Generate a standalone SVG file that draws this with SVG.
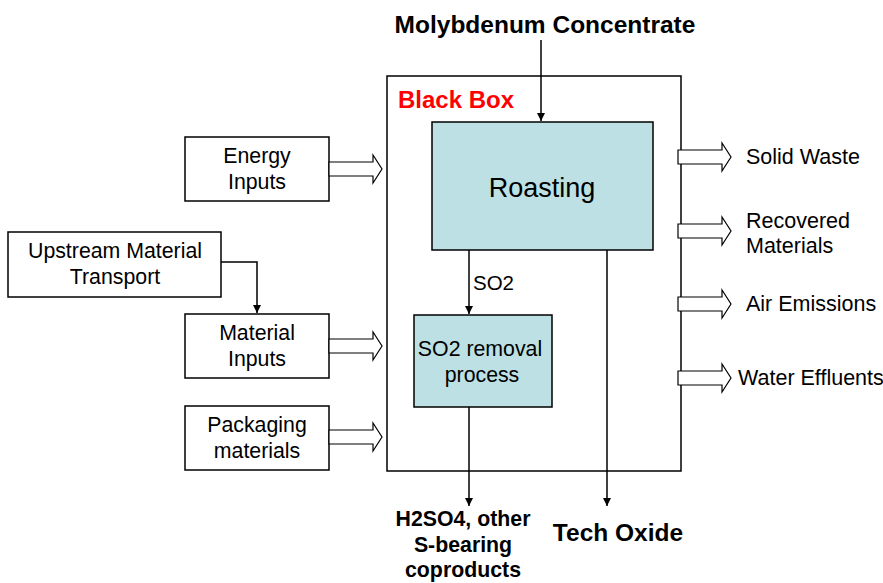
<svg xmlns="http://www.w3.org/2000/svg" width="883" height="583" viewBox="0 0 883 583">
<defs>
<marker id="ah" markerWidth="10" markerHeight="10" refX="9" refY="5" orient="auto" markerUnits="userSpaceOnUse"><path d="M1,1 L9,5 L1,9 Z" fill="#000"/></marker>
<path id="hollow" d="M0,-7 L44,-7 L44,-14 L53,0 L44,14 L44,7 L0,7 Z" fill="#fff" stroke="#000" stroke-width="1.2"/>
</defs>
<style>
text{font-family:"Liberation Sans",Arial,sans-serif;fill:#000}
.box{fill:#fff;stroke:#000;stroke-width:1.5}
.proc{fill:#BCE0E3;stroke:#000;stroke-width:1.5}
.lbl{font-size:21.3px;text-anchor:middle}
.out{font-size:21.5px}
.bold{font-weight:bold;text-anchor:middle}
.line{stroke:#000;stroke-width:1.5;fill:none}
</style>
<rect width="883" height="583" fill="#fff"/>
<g id="blackbox">
<rect x="387" y="76" width="294" height="395" class="box"/>
<text x="398" y="108" font-size="24" font-weight="bold" style="fill:#FF0000">Black Box</text>
</g>
<g id="roasting">
<rect x="432" y="122" width="221" height="128" class="proc"/>
<text x="542" y="197" font-size="27" text-anchor="middle">Roasting</text>
</g>
<g id="so2removal">
<rect x="414" y="315" width="138" height="92" class="proc"/>
<text x="480" y="356" class="lbl">SO2 removal</text>
<text x="482" y="382" class="lbl">process</text>
</g>
<g id="molyconc"><text x="545" y="33" font-size="24.5" class="bold">Molybdenum Concentrate</text></g>
<g id="energy"><rect x="185" y="137" width="144" height="64" class="box"/><text x="257" y="163" class="lbl">Energy</text><text x="257" y="189" class="lbl">Inputs</text></g>
<g id="upstream"><rect x="8" y="232" width="213" height="65" class="box"/><text x="115" y="258" class="lbl">Upstream Material</text><text x="115" y="284" class="lbl">Transport</text></g>
<g id="material"><rect x="185" y="314" width="144" height="64" class="box"/><text x="257" y="340" class="lbl">Material</text><text x="257" y="366" class="lbl">Inputs</text></g>
<g id="packaging"><rect x="185" y="406" width="144" height="64" class="box"/><text x="257" y="432" class="lbl">Packaging</text><text x="257" y="458" class="lbl">materials</text></g>
<g id="solidwaste"><text x="746" y="164" class="out">Solid Waste</text></g>
<g id="recovered"><text x="746" y="228" class="out">Recovered</text><text x="746" y="253" class="out">Materials</text></g>
<g id="air"><text x="746" y="311" class="out">Air Emissions</text></g>
<g id="water"><text x="738" y="385" class="out">Water Effluents</text></g>
<g id="h2so4"><text x="463" y="526" font-size="21.3" class="bold">H2SO4, other</text><text x="463" y="552" font-size="21.3" class="bold">S-bearing</text><text x="463" y="577" font-size="21.3" class="bold">coproducts</text></g>
<g id="techoxide"><text x="618" y="541" font-size="24.5" class="bold">Tech Oxide</text></g>
<g id="connectors">
<line x1="541" y1="40" x2="541" y2="121" class="line" marker-end="url(#ah)"/>
<line x1="469" y1="250" x2="469" y2="314" class="line" marker-end="url(#ah)"/>
<text x="473" y="290" font-size="20.5">SO2</text>
<line x1="469" y1="407" x2="469" y2="506" class="line" marker-end="url(#ah)"/>
<line x1="607" y1="250" x2="607" y2="506" class="line" marker-end="url(#ah)"/>
<polyline points="221,262 257,262 257,313" class="line" marker-end="url(#ah)"/>
<use href="#hollow" x="329" y="169"/>
<use href="#hollow" x="329" y="346"/>
<use href="#hollow" x="329" y="437"/>
<use href="#hollow" x="678" y="157"/>
<use href="#hollow" x="678" y="231"/>
<use href="#hollow" x="678" y="304"/>
<use href="#hollow" x="678" y="378"/>
</g>
</svg>
